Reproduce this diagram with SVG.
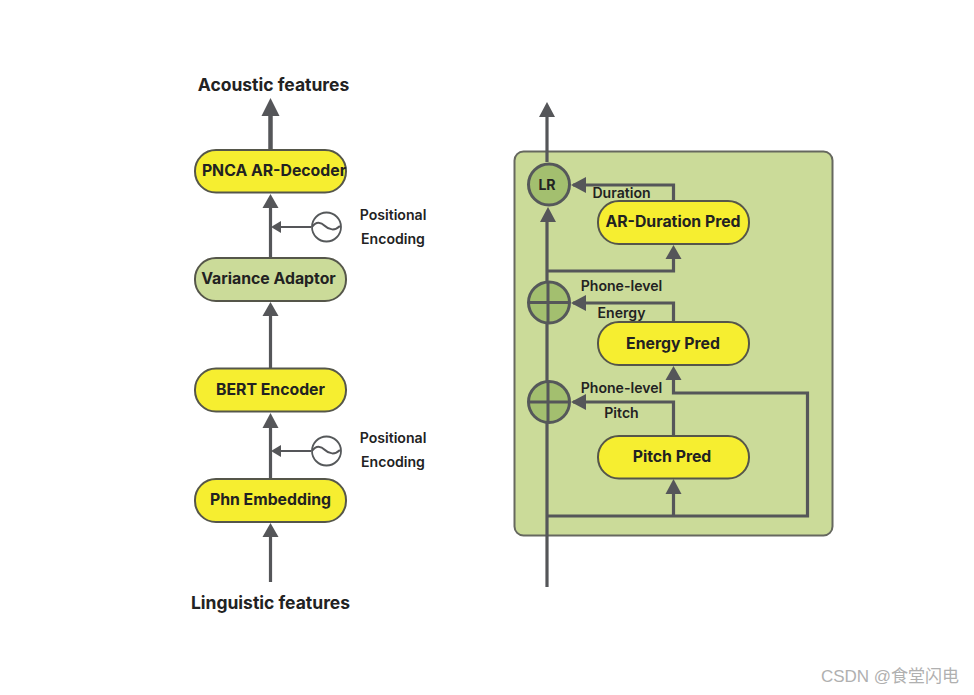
<svg xmlns="http://www.w3.org/2000/svg" width="974" height="695" viewBox="0 0 974 695">
<style>
text{font-family:Inter,"Liberation Sans",sans-serif;font-weight:600;fill:#222;text-anchor:middle}
.n{font-size:15.800px;font-weight:700}
.h{font-size:17.500px;font-weight:700}
.s{font-size:14.100px}
.y{fill:#f6ee30;stroke:#55564a;stroke-width:2}
.g{fill:#cbdb99;stroke:#55564a;stroke-width:2}
.c{fill:#a3bf6f;stroke:#55585a;stroke-width:3}
.l{fill:none;stroke:#555659;stroke-width:3.200}
.t{fill:none;stroke:#555659;stroke-width:2}
.a{fill:#555659;stroke:none}
</style>
<rect width="974" height="695" fill="#fff"/>
<g id="panel"><rect x="514.500" y="151.500" width="318" height="384" rx="9" fill="#cbdb99" stroke="#66685f" stroke-width="2"/></g>
<g id="connectors">
<path class="l" d="M270.500 149V114" style="stroke-width:4.500"/>
<path class="a" d="M270.500 98l9 18h-18z"/>
<path class="l" d="M270.500 258V208"/><path class="a" d="M270.500 194l8 14h-16z"/>
<path class="t" d="M311 227H280"/><path class="a" d="M271 227l10-6v12z"/>
<path class="l" d="M270.500 368V316"/><path class="a" d="M270.500 302l8 14h-16z"/>
<path class="l" d="M270.500 479V428"/><path class="a" d="M270.500 413l8 15h-16z"/>
<path class="t" d="M311 451H280"/><path class="a" d="M271 451l10-6v12z"/>
<path class="l" d="M270.500 582V537"/><path class="a" d="M270.500 523l8 14h-16z"/>
<path class="l" d="M547 162V116"/><path class="a" d="M547 102l8 15h-16z"/>
<path class="l" d="M547 587V220"/><path class="a" d="M548 207l8 15h-16z"/>
<path class="l" d="M573 185H673.500V201"/><path class="a" d="M571 185l15-8v16z"/>
<path class="l" d="M548 271H673.500V258"/><path class="a" d="M673.500 245l8 14h-16z"/>
<path class="l" d="M573 303H673.500V322"/><path class="a" d="M571 303l15-8v16z"/>
<path class="l" d="M573 402H673.500V436"/><path class="a" d="M571 402l15-8v16z"/>
<path class="l" d="M548 516H807.500V393H673.500V380"/><path class="a" d="M673.500 366l8 14h-16z"/>
<path class="l" d="M673.500 516V493"/><path class="a" d="M673.500 479l8 15h-16z"/>
</g>
<g id="pnca"><rect class="y" x="195" y="150" width="151" height="42.500" rx="21"/><text class="n" x="274" y="176">PNCA AR-Decoder</text></g>
<g id="pe1"><circle cx="326.500" cy="227" r="14.500" fill="#fff" stroke="#55585a" stroke-width="1.800"/><path class="t" d="M312 227c4-6 9-5 13-1s10 5 15 0"/></g>
<g id="variance"><rect class="g" x="195" y="258" width="151" height="43" rx="21"/><text class="n" x="268.500" y="284">Variance Adaptor</text></g>
<g id="bert"><rect class="y" x="195" y="368.500" width="151" height="43" rx="21"/><text class="n" x="270.500" y="395">BERT Encoder</text></g>
<g id="pe2"><circle cx="326.500" cy="451" r="14.500" fill="#fff" stroke="#55585a" stroke-width="1.800"/><path class="t" d="M312 451c4-6 9-5 13-1s10 5 15 0"/></g>
<g id="phn"><rect class="y" x="195" y="479" width="151" height="43" rx="21"/><text class="n" x="270.500" y="505">Phn Embedding</text></g>
<g id="labels-left">
<text class="h" x="273.500" y="91">Acoustic features</text>
<text class="h" x="270.500" y="609">Linguistic features</text>
<text class="s" x="393" y="220">Positional</text>
<text class="s" x="393" y="244">Encoding</text>
<text class="s" x="393" y="443">Positional</text>
<text class="s" x="393" y="467">Encoding</text>
</g>
<g id="lr"><circle class="c" cx="549" cy="184.500" r="20.500"/><text class="s" x="547" y="190" style="font-weight:700">LR</text></g>
<g id="add1"><circle class="c" cx="549" cy="302.500" r="20.500"/><path class="t" d="M529 302.500H569M548 282V323" style="stroke-width:3"/></g>
<g id="add2"><circle class="c" cx="549" cy="402" r="20.500"/><path class="t" d="M529 402H569M548 382V422" style="stroke-width:3"/></g>
<g id="duration"><rect class="y" x="598" y="201" width="151" height="43" rx="21"/><text class="n" x="673" y="227">AR-Duration Pred</text></g>
<g id="energy"><rect class="y" x="598" y="322" width="151" height="43" rx="21"/><text class="n" x="673" y="349">Energy Pred</text></g>
<g id="pitch"><rect class="y" x="598" y="436" width="151" height="42.500" rx="21"/><text class="n" x="672" y="462">Pitch Pred</text></g>
<g id="labels-right">
<text class="s" x="621.500" y="198">Duration</text>
<text class="s" x="621.500" y="291">Phone-level</text>
<text class="s" x="621.500" y="318">Energy</text>
<text class="s" x="621.500" y="393">Phone-level</text>
<text class="s" x="621.500" y="418">Pitch</text>
</g>
<text x="890" y="682" style="font-family:'Liberation Sans','Noto Sans CJK SC',sans-serif;font-size:17px;font-weight:400;fill:#b0b0b0">CSDN @食堂闪电</text>
</svg>
